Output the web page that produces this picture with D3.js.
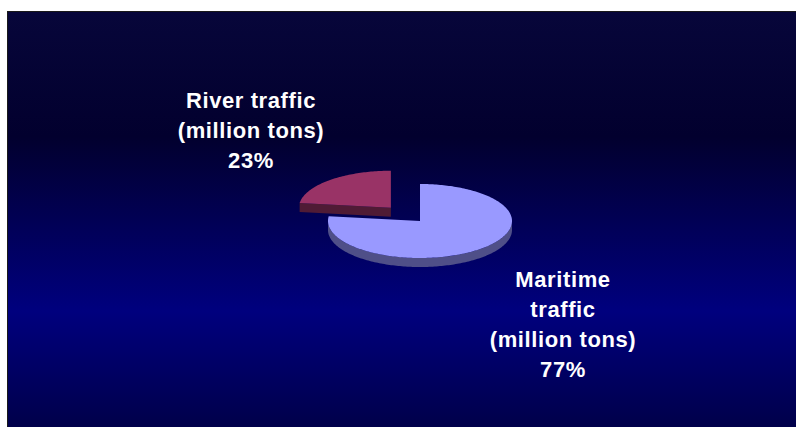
<!DOCTYPE html>
<html><head><meta charset="utf-8">
<script src="https://cdn.jsdelivr.net/npm/d3@7"></script>
<style>html,body{margin:0;padding:0;background:#fff;}svg{display:block;}</style>
</head><body>
<script>
const categories = ["Maritime traffic (million tons)", "River traffic (million tons)"];
const labelLines = [["Maritime","traffic","(million tons)","77%"],["River traffic","(million tons)","23%"]];
const shares = [77, 23];
const topColors = ["#9999ff", "#993366"];
const sideColors = ["#4f4f88", "#4f1b35"];

const W = 796, H = 427;
const svg = d3.select("body").append("svg").attr("width", W).attr("height", H);
const defs = svg.append("defs");
const g = defs.append("linearGradient").attr("id","bg").attr("x1",0).attr("y1",0).attr("x2",0).attr("y2",1);
[[0,"#07063a"],[0.3,"#02002e"],[0.72,"#00007e"],[1,"#00004a"]].forEach(([o,c])=>g.append("stop").attr("offset",o).attr("stop-color",c));

svg.append("rect").attr("x",7).attr("y",11).attr("width",W-7).attr("height",H-11).attr("fill","#1a1a1a");
svg.append("rect").attr("x",8).attr("y",12).attr("width",W-8).attr("height",H-12).attr("fill","url(#bg)");

const cx = 420, cy = 221, rx = 92, ry = 37, depth = 9, explode = 44;
const pie = d3.pie().sort(null).value(d=>d)(shares);
const pt = (a, ox, oy, dy=0) => [ox + Math.sin(a)*rx, oy - Math.cos(a)*ry + dy];

function arcPts(a0, a1, ox, oy, dy){
  const n = Math.max(2, Math.ceil(Math.abs(a1-a0)/0.02));
  return d3.range(n+1).map(i=>pt(a0+(a1-a0)*i/n, ox, oy, dy));
}
const line = d3.line();
const order = [1, 0];
order.forEach(i=>{
  const s = pie[i];
  let ox = cx, oy = cy;
  if (i === 1) {
    const mid = (s.startAngle + s.endAngle)/2;
    ox = cx + Math.sin(mid)*explode;
    oy = cy - Math.cos(mid)*explode*(ry/rx);
  }
  const grp = svg.append("g");
  // cut faces visible from front
  [s.startAngle, s.endAngle].forEach((a, k)=>{
    const p = pt(a, ox, oy);
    // visible if the face's outward normal points toward viewer (down)
    const nx = k===0 ? -Math.cos(a) : Math.cos(a);
    const ny = k===0 ? -Math.sin(a) : Math.sin(a);
    // normal in circle coords -> screen y = -cos component; visible if screen normal y > 0
    const screenNy = k===0 ? -Math.sin(a) : Math.sin(a);
    if (screenNy > 0.05) {
      grp.append("path").attr("d", line([[ox,oy],p,[p[0],p[1]+depth],[ox,oy+depth]])+"Z").attr("fill", sideColors[i]);
    }
  });
  // outer wall front portion
  const f0 = Math.max(s.startAngle, Math.PI/2), f1 = Math.min(s.endAngle, 3*Math.PI/2);
  if (f1 > f0) {
    const pts = arcPts(f0, f1, ox, oy, 0).concat(arcPts(f1, f0, ox, oy, depth));
    grp.append("path").attr("d", line(pts)+"Z").attr("fill", sideColors[i]);
  }
  const top = [[ox,oy]].concat(arcPts(s.startAngle, s.endAngle, ox, oy, 0));
  grp.append("path").attr("d", line(top)+"Z").attr("fill", topColors[i]);
});

const labelPos = [{x:563, y:287}, {x:251, y:108}];
labelLines.forEach((lines,i)=>{
  const t = svg.append("text").attr("fill","#fff").attr("font-family","'Liberation Sans', Arial, sans-serif")
    .attr("font-weight","bold").attr("font-size",22).attr("letter-spacing","0.6px").attr("text-anchor","middle");
  lines.forEach((l,j)=>t.append("tspan").attr("x",labelPos[i].x).attr("y",labelPos[i].y + j*30).text(l));
});
</script>
</body></html>
